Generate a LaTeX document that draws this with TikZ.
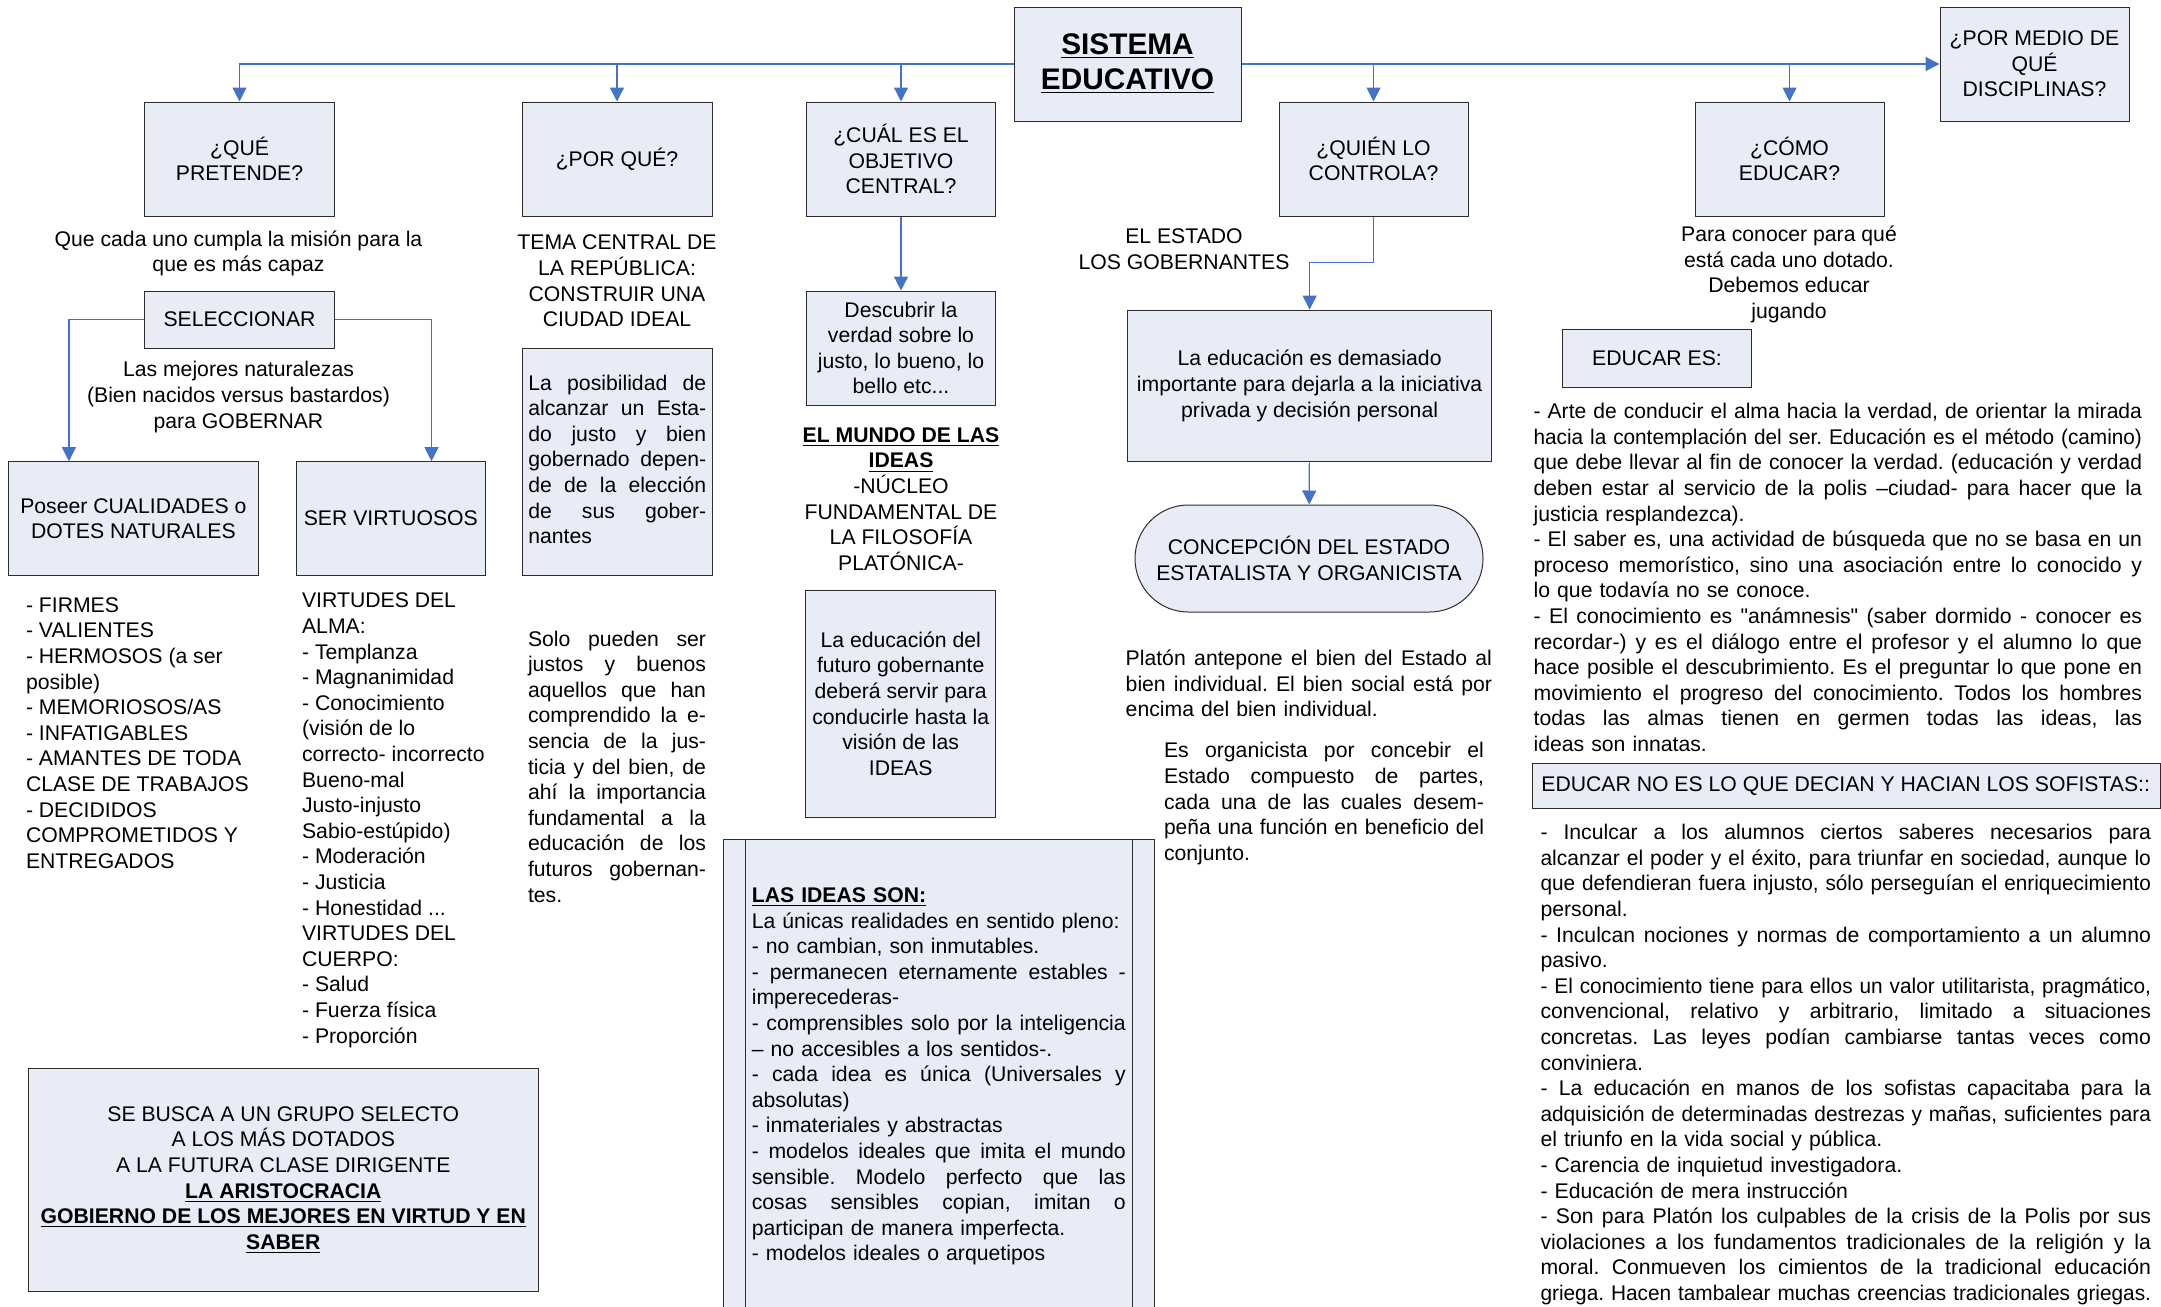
\documentclass[tikz,border=0pt]{standalone}
\usepackage{fontspec}
\setmainfont{Liberation Sans}[Ligatures=TeXOff]
\usepackage{graphicx}
\usetikzlibrary{arrows.meta,calc}
\definecolor{boxfill}{RGB}{231,236,247}
\definecolor{linkblue}{RGB}{68,114,196}
\definecolor{boxline}{RGB}{45,45,45}
\frenchspacing
% one justified line / one left line of a paragraph
\newsavebox\jlinebox
\newcommand\jln[1]{\sbox\jlinebox{#1}%
  \ifdim\wd\jlinebox>\hsize
    \hbox to\hsize{\strut\resizebox{\hsize}{\height}{#1}}%
  \else
    \hbox to\hsize{\spaceskip=.278em plus 1fil\relax\strut #1}%
  \fi}
\newcommand\lln[1]{\hbox to\hsize{\strut #1\hfil}}

\begin{document}
\begin{tikzpicture}[x=0.5pt,y=-0.5pt,
  every node/.style={font=\fontsize{10.6}{12.8}\selectfont, inner sep=0pt},
  box/.style={draw=boxline, line width=0.5pt, fill=boxfill, align=center},
  conn/.style={draw=linkblue, line width=0.6pt, -{Triangle[width=7pt,length=7pt]}},
  title/.style={font=\fontsize{14.9}{17.5}\selectfont\bfseries}]

\useasboundingbox (0,0) rectangle (2161,1306);

% Top row
\node[box, title, minimum width=113.5pt, minimum height=57pt] (main) at (1127.5,64) {\underline{SISTEMA}\\\underline{EDUCATIVO}};
\node[box, minimum width=95pt, minimum height=57pt] (que) at (239.5,159) {¿QUÉ\\PRETENDE?};
\node[box, minimum width=95pt, minimum height=57pt] (porque) at (617,159) {¿POR QUÉ?};
\node[box, minimum width=94.5pt, minimum height=57pt] (cual) at (901,159) {¿CUÁL ES EL\\OBJETIVO\\CENTRAL?};
\node[box, minimum width=94.5pt, minimum height=57pt] (quien) at (1373.5,159) {¿QUIÉN LO\\CONTROLA?};
\node[box, minimum width=94.5pt, minimum height=57pt] (como) at (1789.5,159) {¿CÓMO\\EDUCAR?};
\node[box, minimum width=94.5pt, minimum height=57pt] (medio) at (2034.5,64) {¿POR MEDIO DE\\QUÉ\\DISCIPLINAS?};

% Column 1
\node[align=center] (mision) at (238.5,253.5) {Que cada uno cumpla la misión para la\\que es más capaz};
\node[box, minimum width=95pt, minimum height=28.5pt] (selec) at (239.5,319.5) {SELECCIONAR};
\node[align=center] (mejores) at (238.5,397) {Las mejores naturalezas\\(Bien nacidos versus bastardos)\\para GOBERNAR};
\node[box, minimum width=125pt, minimum height=56.8pt] (poseer) at (133.4,518.5) {Poseer CUALIDADES o\\DOTES NATURALES};
\node[box, minimum width=94.8pt, minimum height=56.8pt] (virt) at (390.8,518.5) {SER VIRTUOSOS};
\node[align=left, anchor=west] (firmes) at (25.6,733) {- FIRMES\\- VALIENTES\\- HERMOSOS (a ser\\posible)\\- MEMORIOSOS/AS\\- INFATIGABLES\\- AMANTES DE TODA\\CLASE DE TRABAJOS\\- DECIDIDOS\\COMPROMETIDOS Y\\ENTREGADOS};
\node[align=left, anchor=west] (virtudes) at (301.7,820.3) {VIRTUDES DEL\\ALMA:\\- Templanza\\- Magnanimidad\\- Conocimiento\\(visión de lo\\correcto- incorrecto\\Bueno-mal\\Justo-injusto\\Sabio-estúpido)\\- Moderación\\- Justicia\\- Honestidad ...\\VIRTUDES DEL\\CUERPO:\\- Salud\\- Fuerza física\\- Proporción};
\node[box, minimum width=255.3pt, minimum height=111.85pt] (busca) at (283.3,1179.9) {SE BUSCA A UN GRUPO SELECTO\\A LOS MÁS DOTADOS\\A LA FUTURA CLASE DIRIGENTE\\\underline{\textbf{LA ARISTOCRACIA}}\\\underline{\textbf{GOBIERNO DE LOS MEJORES EN VIRTUD Y EN}}\\\underline{\textbf{SABER}}};

% Column 2
\node[align=center] (tema) at (617,281) {TEMA CENTRAL DE\\LA REPÚBLICA:\\CONSTRUIR UNA\\CIUDAD IDEAL};
\node[box, text width=89pt, inner xsep=2.85pt, minimum height=113.65pt] (posib) at (617.3,461.7) {%
\jln{La posibilidad de}
\jln{alcanzar un Esta-}
\jln{do justo y bien}
\jln{gobernado depen-}
\jln{de de la elección}
\jln{de sus gober-}
\lln{nantes}};
\node[text width=89pt] (solo) at (617,769) {%
\jln{Solo pueden ser}
\jln{justos y buenos}
\jln{aquellos que han}
\jln{comprendido la e-}
\jln{sencia de la jus-}
\jln{ticia y del bien, de}
\jln{ahí la importancia}
\jln{fundamental a la}
\jln{educación de los}
\jln{futuros gobernan-}
\lln{tes.}};

% Column 3
\node[box, minimum width=94.5pt, minimum height=57pt] (descub) at (901,348) {Descubrir la\\verdad sobre lo\\justo, lo bueno, lo\\bello etc...};
\node[align=center] (mundo) at (901,499) {\underline{\textbf{EL MUNDO DE LAS}}\\\underline{\textbf{IDEAS}}\\-NÚCLEO\\FUNDAMENTAL DE\\LA FILOSOFÍA\\PLATÓNICA-};
\node[box, minimum width=94.75pt, minimum height=113.5pt] (futuro) at (900.7,703.5) {La educación del\\futuro gobernante\\deberá servir para\\conducirle hasta la\\visión de las\\IDEAS};
\node[box, text width=187pt, minimum width=215.5pt, minimum height=237.35pt] (ideas) at (938.8,1076.6) {%
\lln{\underline{\textbf{LAS IDEAS SON:}}}
\lln{La únicas realidades en sentido pleno:}
\lln{- no cambian, son inmutables.}
\jln{- permanecen eternamente estables -}
\lln{imperecederas-}
\jln{- comprensibles solo por la inteligencia}
\lln{– no accesibles a los sentidos-.}
\jln{- cada idea es única (Universales y}
\lln{absolutas)}
\lln{- inmateriales y abstractas}
\jln{- modelos ideales que imita el mundo}
\jln{sensible. Modelo perfecto que las}
\jln{cosas sensibles copian, imitan o}
\lln{participan de manera imperfecta.}
\lln{- modelos ideales o arquetipos}};
\draw[boxline, line width=0.5pt] ([xshift=11.35pt]ideas.north west) -- ([xshift=11.35pt]ideas.south west);
\draw[boxline, line width=0.5pt] ([xshift=-11.15pt]ideas.north east) -- ([xshift=-11.15pt]ideas.south east);

% Column 4
\node[align=center] (estado) at (1184,249) {EL ESTADO\\LOS GOBERNANTES};
\node[box, minimum width=182pt, minimum height=75.85pt] (demas) at (1309.6,385.9) {La educación es demasiado\\importante para dejarla a la iniciativa\\privada y decisión personal};
\node[box, rounded corners=26.7pt, minimum width=174pt, minimum height=53.5pt] (concep) at (1309,558.5) {CONCEPCIÓN DEL ESTADO\\ESTATALISTA Y ORGANICISTA};
\node[text width=183.15pt] (platon) at (1308.85,686) {%
\jln{Platón antepone el bien del Estado al}
\jln{bien individual. El bien social está por}
\lln{encima del bien individual.}};
\node[text width=160pt] (organ) at (1324,804) {%
\jln{Es organicista por concebir el}
\jln{Estado compuesto de partes,}
\jln{cada una de las cuales desem-}
\jln{peña una función en beneficio del}
\lln{conjunto.}};

% Column 5
\node[align=center] (jugando) at (1789,274.5) {Para conocer para qué\\está cada uno dotado.\\Debemos educar\\jugando};
\node[box, minimum width=94.5pt, minimum height=29pt] (educes) at (1657,358) {EDUCAR ES:};
\node[text width=304.2pt] (arte) at (1837.8,580) {%
\jln{- Arte de conducir el alma hacia la verdad, de orientar la mirada}
\jln{hacia la contemplación del ser. Educación es el método (camino)}
\jln{que debe llevar al fin de conocer la verdad. (educación y verdad}
\jln{deben estar al servicio de la polis –ciudad- para hacer que la}
\lln{justicia resplandezca).}
\jln{- El saber es, una actividad de búsqueda que no se basa en un}
\jln{proceso memorístico, sino una asociación entre lo conocido y}
\lln{lo que todavía no se conoce.}
\jln{- El conocimiento es "anámnesis" (saber dormido - conocer es}
\jln{recordar-) y es el diálogo entre el profesor y el alumno lo que}
\jln{hace posible el descubrimiento. Es el preguntar lo que pone en}
\jln{movimiento el progreso del conocimiento. Todos los hombres}
\jln{todas las almas tienen en germen todas las ideas, las}
\lln{ideas son innatas.}};
\node[box, anchor=west, minimum width=314.15pt, minimum height=22.55pt] (sofis) at (1531.7,786) {\makebox[305pt][l]{EDUCAR NO ES LO QUE DECIAN Y HACIAN LOS SOFISTAS::}};
\node[text width=305.25pt] (sofistas) at (1845.75,1065) {%
\jln{- Inculcar a los alumnos ciertos saberes necesarios para}
\jln{alcanzar el poder y el éxito, para triunfar en sociedad, aunque lo}
\jln{que defendieran fuera injusto, sólo perseguían el enriquecimiento}
\lln{personal.}
\jln{- Inculcan nociones y normas de comportamiento a un alumno}
\lln{pasivo.}
\jln{- El conocimiento tiene para ellos un valor utilitarista, pragmático,}
\jln{convencional, relativo y arbitrario, limitado a situaciones}
\jln{concretas. Las leyes podían cambiarse tantas veces como}
\lln{conviniera.}
\jln{- La educación en manos de los sofistas capacitaba para la}
\jln{adquisición de determinadas destrezas y mañas, suficientes para}
\lln{el triunfo en la vida social y pública.}
\lln{- Carencia de inquietud investigadora.}
\lln{- Educación de mera instrucción}
\jln{- Son para Platón los culpables de la crisis de la Polis por sus}
\jln{violaciones a los fundamentos tradicionales de la religión y la}
\jln{moral. Conmueven los cimientos de la tradicional educación}
\jln{griega. Hacen tambalear muchas creencias tradicionales griegas.}};

% Connectors
\draw[conn] (main.west) -| (que.north);
\draw[conn] (main.west) -| (porque.north);
\draw[conn] (main.west) -| (cual.north);
\draw[conn] (main.east) -| (quien.north);
\draw[conn] (main.east) -| (como.north);
\draw[conn] (main.east) -- (medio.west);
\draw[conn] (cual) -- (descub);
\draw[conn] (selec.west) -| ($(poseer.north west)+(61,0)$);
\draw[conn] (selec.east) -| ($(virt.north west)+(136,0)$);
\draw[conn] (quien.south) -- ++(0,46) -| (demas.north);
\draw[conn] (demas) -- (concep);

\end{tikzpicture}
\end{document}
